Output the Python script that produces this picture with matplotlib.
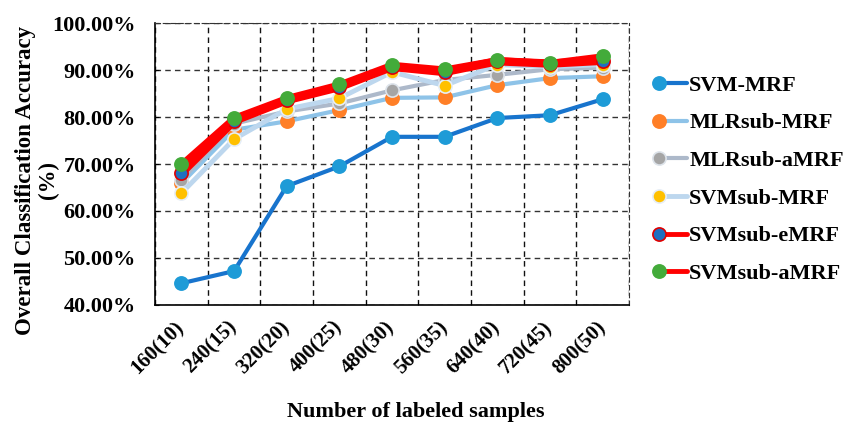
import matplotlib

matplotlib.use("Agg")
import matplotlib.pyplot as plt
import numpy as np
from matplotlib.legend_handler import HandlerLine2D
from matplotlib.lines import Line2D
from matplotlib.ticker import FixedLocator, FuncFormatter

plt.rcParams["font.family"] = ["Liberation Serif", "DejaVu Serif"]
plt.rcParams["font.weight"] = "bold"

categories = ["160(10)", "240(15)", "320(20)", "400(25)", "480(30)",
              "560(35)", "640(40)", "720(45)", "800(50)"]

svm_mrf = [44.6, 47.2, 65.3, 69.5, 75.8, 75.8, 79.8, 80.4, 83.8]
mlrsub_mrf = [65.9, 77.3, 79.1, 81.5, 84.1, 84.2, 86.8, 88.3, 88.7]
mlrsub_amrf = [66.6, 78.6, 81.2, 82.9, 85.7, 87.9, 89.0, 90.2, 90.5]
svmsub_mrf = [63.8, 75.3, 81.7, 84.0, 89.6, 86.7, 91.2, 90.7, 91.2]
svmsub_emrf = [68.1, 79.2, 83.6, 86.4, 90.7, 89.6, 91.9, 91.4, 92.0]
svmsub_amrf = [70.0, 79.9, 84.1, 87.0, 91.2, 90.2, 92.2, 91.6, 93.0]

# name, values, line colour, line width, marker face, marker edge
series = [
    ("SVM-MRF", svm_mrf, "#1874cd", 3.0, "#1e9bd7", "#1e9bd7"),
    ("MLRsub-MRF", mlrsub_mrf, "#8ec3e8", 3.0, "#ff7f27", "#ff7f27"),
    ("MLRsub-aMRF", mlrsub_amrf, "#adb9ca", 3.0, "#a5a5a5", "#dde3ea"),
    ("SVMsub-MRF", svmsub_mrf, "#bdd7ee", 3.5, "#ffc000", "#e6eef7"),
    ("SVMsub-eMRF", svmsub_emrf, "#ff0000", 6.0, "#1f6fc0", "#e00000"),
    ("SVMsub-aMRF", svmsub_amrf, "#ff0000", 4.0, "#43ab3a", "#43ab3a"),
]


class MarkerLeft(HandlerLine2D):
    # legend line with the marker at its left end, as in the source figure
    def create_artists(self, legend, orig_handle, xdescent, ydescent,
                       width, height, fontsize, trans):
        artists = super().create_artists(legend, orig_handle, xdescent, ydescent,
                                         width, height, fontsize, trans)
        for a in artists:
            a.set_markevery([0])
            a.set_linewidth(min(a.get_linewidth(), 3.5))
        return artists


fig = plt.figure(figsize=(8.43, 4.30), dpi=100)
ax = fig.add_axes([0.184, 0.291, 0.562, 0.655])

x = np.arange(len(categories))
handles = []
for name, vals, lc, lw, mf, me in series:
    h, = ax.plot(x, vals, color=lc, lw=lw, marker="o", markersize=9.5,
                 markerfacecolor=mf, markeredgecolor=me, markeredgewidth=1.2,
                 label=name, solid_capstyle="round", zorder=3)
    handles.append(h)

ax.set_xlim(-0.5, len(categories) - 0.5)
ax.set_ylim(40, 100)
ax.set_yticks(np.arange(40, 101, 10))
ax.yaxis.set_major_formatter(FuncFormatter(lambda v, p: f"{v:.2f}%"))
ax.set_xticks(x)
ax.set_xticklabels(categories, rotation=45, ha="right", va="center",
                   rotation_mode="anchor")
ax.xaxis.set_minor_locator(FixedLocator(np.arange(-0.5, len(categories), 1.0)))

ax.tick_params(axis="x", which="major", length=0, pad=14, labelsize=15)
ax.tick_params(axis="x", which="minor", direction="in", length=3)
ax.tick_params(axis="y", direction="in", length=3, labelsize=16, pad=14)

ax.grid(True, axis="y", which="major", ls=(0, (4, 3)), color="#333333", lw=1.0)
ax.grid(True, axis="x", which="minor", ls=(0, (4, 3)), color="#111111", lw=1.0)
ax.set_axisbelow(True)
for side in ["top", "right"]:
    ax.spines[side].set_linestyle((0, (4, 3)))
    ax.spines[side].set_color("#333333")
for side in ["left", "bottom"]:
    ax.spines[side].set_linewidth(1.2)

ax.set_ylabel("Overall Classification Accuracy\n(%)", fontsize=16.5,
              fontweight="bold", linespacing=1.1)
ax.yaxis.set_label_coords(-0.203, 0.443)
ax.set_xlabel("Number of labeled samples", fontsize=16, fontweight="bold")
ax.xaxis.set_label_coords(0.55, -0.345)

fig.legend(handles=handles, loc="upper left", bbox_to_anchor=(0.771, 0.846),
           frameon=False, fontsize=16, handlelength=1.27, handletextpad=0.1,
           labelspacing=0.77, numpoints=1, borderaxespad=0,
           handler_map={Line2D: MarkerLeft()})

fig.savefig("out.png", dpi=100)
